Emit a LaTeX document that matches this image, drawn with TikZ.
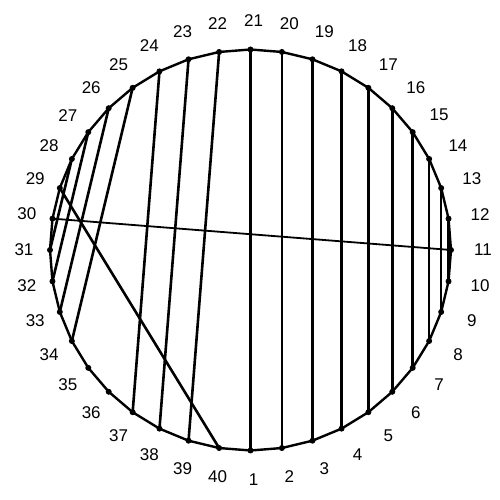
\documentclass[tikz,border=0pt]{standalone}
\usepackage{fontspec}
\setmainfont{Liberation Sans}
\begin{document}
\begin{tikzpicture}[x=1pt,y=1pt,
  chord/.style={line width=2.6pt},
  thinchord/.style={line width=1.8pt},
  rim/.style={line width=2.4pt, line join=round},
  dot/.style={circle, fill=black, inner sep=0pt, minimum size=6pt},
  lab/.style={inner sep=0pt, font=\fontsize{17}{20}\selectfont}]
\useasboundingbox (0,0) rectangle (500,500);
\foreach \k in {1,...,40}{
  \pgfmathsetmacro\a{-90+(\k-1)*9}
  \node[dot] (p\k) at ({250.5+200.5*cos(\a)},{250+200.5*sin(\a)}) {};
  \node[lab] (l\k) at ({253.5+229.5*cos(\a)},{250+229.5*sin(\a)}) {\k};
}
\draw[rim] (p1.center) \foreach \k in {2,...,40}{ -- (p\k.center)} -- cycle;
\foreach \i/\j in {1/21,2/20,3/19,4/18,5/17,6/16,7/15,8/14,9/13,10/12,
                   22/39,23/38,24/37,25/34,26/33,27/32,28/31,29/40}{
  \draw[chord] (p\i.center) -- (p\j.center);
}
\draw[thinchord] (p11.center) -- (p30.center);
\end{tikzpicture}
\end{document}
